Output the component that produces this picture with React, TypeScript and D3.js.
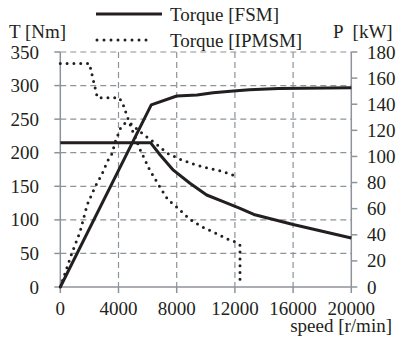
import React from "react";
import * as d3 from "d3";

// ---- data ----
const speedTicks = [0, 4000, 8000, 12000, 16000, 20000];
const torqueTicks = [0, 50, 100, 150, 200, 250, 300, 350];
const powerTicks = [0, 20, 40, 60, 80, 100, 120, 140, 160, 180];

const fsmTorqueSpeed = [0, 6200, 6850, 7770, 8910, 10060, 11200, 12350, 13300, 16000, 20000];
const fsmTorqueNm = [215, 215, 197, 174, 154.5, 137, 127, 117, 108, 93, 73];

const fsmPowerSpeed = [0, 6250, 8000, 9400, 10500, 11900, 13000, 15000, 20000];
const fsmPowerKw = [0, 139.5, 146.3, 147, 148.8, 150.1, 151, 152, 152.6];

const ipmTorqueSpeed = [0, 2000, 2550, 4050, 4300, 4600, 4900, 5500, 6150, 6900, 7400, 7900, 8200, 8900, 9700, 10700, 11550, 12000, 12350, 12350];
const ipmTorqueNm = [333, 333, 282, 282, 273, 254, 236, 204, 174, 147, 130, 121, 115, 101, 90, 80, 71, 67.5, 62, 8];

const ipmPowerSpeed = [0, 800, 1350, 1850, 2400, 2850, 3250, 3550, 3800, 4150, 4450, 4800, 5700, 6600, 7350, 8200, 9100, 10000, 11000, 12000];
const ipmPowerKw = [0, 26, 42, 63, 77, 86, 96.5, 102, 112, 122, 125.5, 125.5, 117, 109.5, 102.5, 98, 94.3, 91.5, 89, 85.2];

const legendLabels = ["Torque [FSM]", "Torque [IPMSM]"];

// ---- layout ----
const W = 399;
const H = 343;
const X0 = 60.3, X1 = 351.3, Y0 = 287, Y1 = 52;
const INK = "#231f20";
const GRID = "#8e939a";
const FS = 19;

export default function App() {
  const x = d3.scaleLinear().domain([0, 20000]).range([X0, X1]);
  const yT = d3.scaleLinear().domain([0, 350]).range([Y0, Y1]);
  const yP = d3.scaleLinear().domain([0, 180]).range([Y0, Y1]);

  const lineT = d3.line<[number, number]>().x((d) => x(d[0])).y((d) => yT(d[1]));
  const lineP = d3.line<[number, number]>().x((d) => x(d[0])).y((d) => yP(d[1]));

  const zip = (a: number[], b: number[]) => a.map((v, i) => [v, b[i]] as [number, number]);

  const solid = { fill: "none", stroke: INK, strokeWidth: 3, strokeLinejoin: "round" as const };
  const dotted = {
    fill: "none",
    stroke: INK,
    strokeWidth: 3,
    strokeLinecap: "round" as const,
    strokeDasharray: "0 6.8",
  };
  const T = (props: any) => (
    <text fontFamily="Liberation Serif" fontSize={FS} fill={INK} {...props} />
  );

  return (
    <svg width={W} height={H} fontFamily="Liberation Serif" style={{ position: "absolute", left: 0, top: 0, background: "#fff" }}>
      {/* grid */}
      {torqueTicks.filter((t) => t > 0).map((t) => (
        <line key={"gh" + t} x1={X0} x2={X1} y1={yT(t)} y2={yT(t)} stroke={GRID} strokeWidth={1.2} strokeDasharray="6 4" />
      ))}
      {speedTicks.filter((s) => s > 0 && s < 20000).map((s) => (
        <line key={"gv" + s} x1={x(s)} x2={x(s)} y1={Y1} y2={Y0} stroke={GRID} strokeWidth={1.2} strokeDasharray="6 4" />
      ))}
      {/* axes */}
      <line x1={X0} x2={X0} y1={Y1} y2={Y0} stroke={GRID} strokeWidth={1.5} />
      <line x1={X1} x2={X1} y1={Y1} y2={Y0} stroke={GRID} strokeWidth={1.5} />
      <line x1={X0} x2={X1} y1={Y0} y2={Y0} stroke={GRID} strokeWidth={1.5} />
      {torqueTicks.map((t) => (
        <g key={"lt" + t}>
          <line x1={X0 - 6} x2={X0} y1={yT(t)} y2={yT(t)} stroke={GRID} strokeWidth={1.5} />
          <T x={39} y={yT(t) + 6.5} textAnchor="end">{t}</T>
        </g>
      ))}
      {powerTicks.map((p) => (
        <g key={"rt" + p}>
          <line x1={X1} x2={X1 + 6} y1={yP(p)} y2={yP(p)} stroke={GRID} strokeWidth={1.5} />
          <T x={367} y={yP(p) + 6.5}>{p}</T>
        </g>
      ))}
      {speedTicks.map((s) => (
        <g key={"bt" + s}>
          <line x1={x(s)} x2={x(s)} y1={Y0} y2={Y0 + 6} stroke={GRID} strokeWidth={1.5} />
          <T x={x(s)} y={314.5} textAnchor="middle">{s}</T>
        </g>
      ))}

      {/* series */}
      <path d={lineT(zip(fsmTorqueSpeed, fsmTorqueNm)) || ""} {...solid} />
      <path d={lineP(zip(fsmPowerSpeed, fsmPowerKw)) || ""} {...solid} />
      <path d={lineT(zip(ipmTorqueSpeed, ipmTorqueNm)) || ""} {...dotted} />
      <path d={lineP(zip(ipmPowerSpeed, ipmPowerKw)) || ""} {...dotted} />

      {/* axis titles */}
      <T x={9} y={37.5}>T [Nm]</T>
      <T x={333} y={37.5}>P<tspan dx={9}>[kW]</tspan></T>
      <T x={392} y={332} textAnchor="end">speed [r/min]</T>

      {/* legend */}
      <line x1={96} x2={162} y1={14} y2={14} stroke={INK} strokeWidth={3} />
      <T x={170} y={21}>{legendLabels[0]}</T>
      <line x1={97} x2={153} y1={40} y2={40} {...dotted} strokeDasharray="0 7" />
      <T x={170} y={47}>{legendLabels[1]}</T>
    </svg>
  );
}
